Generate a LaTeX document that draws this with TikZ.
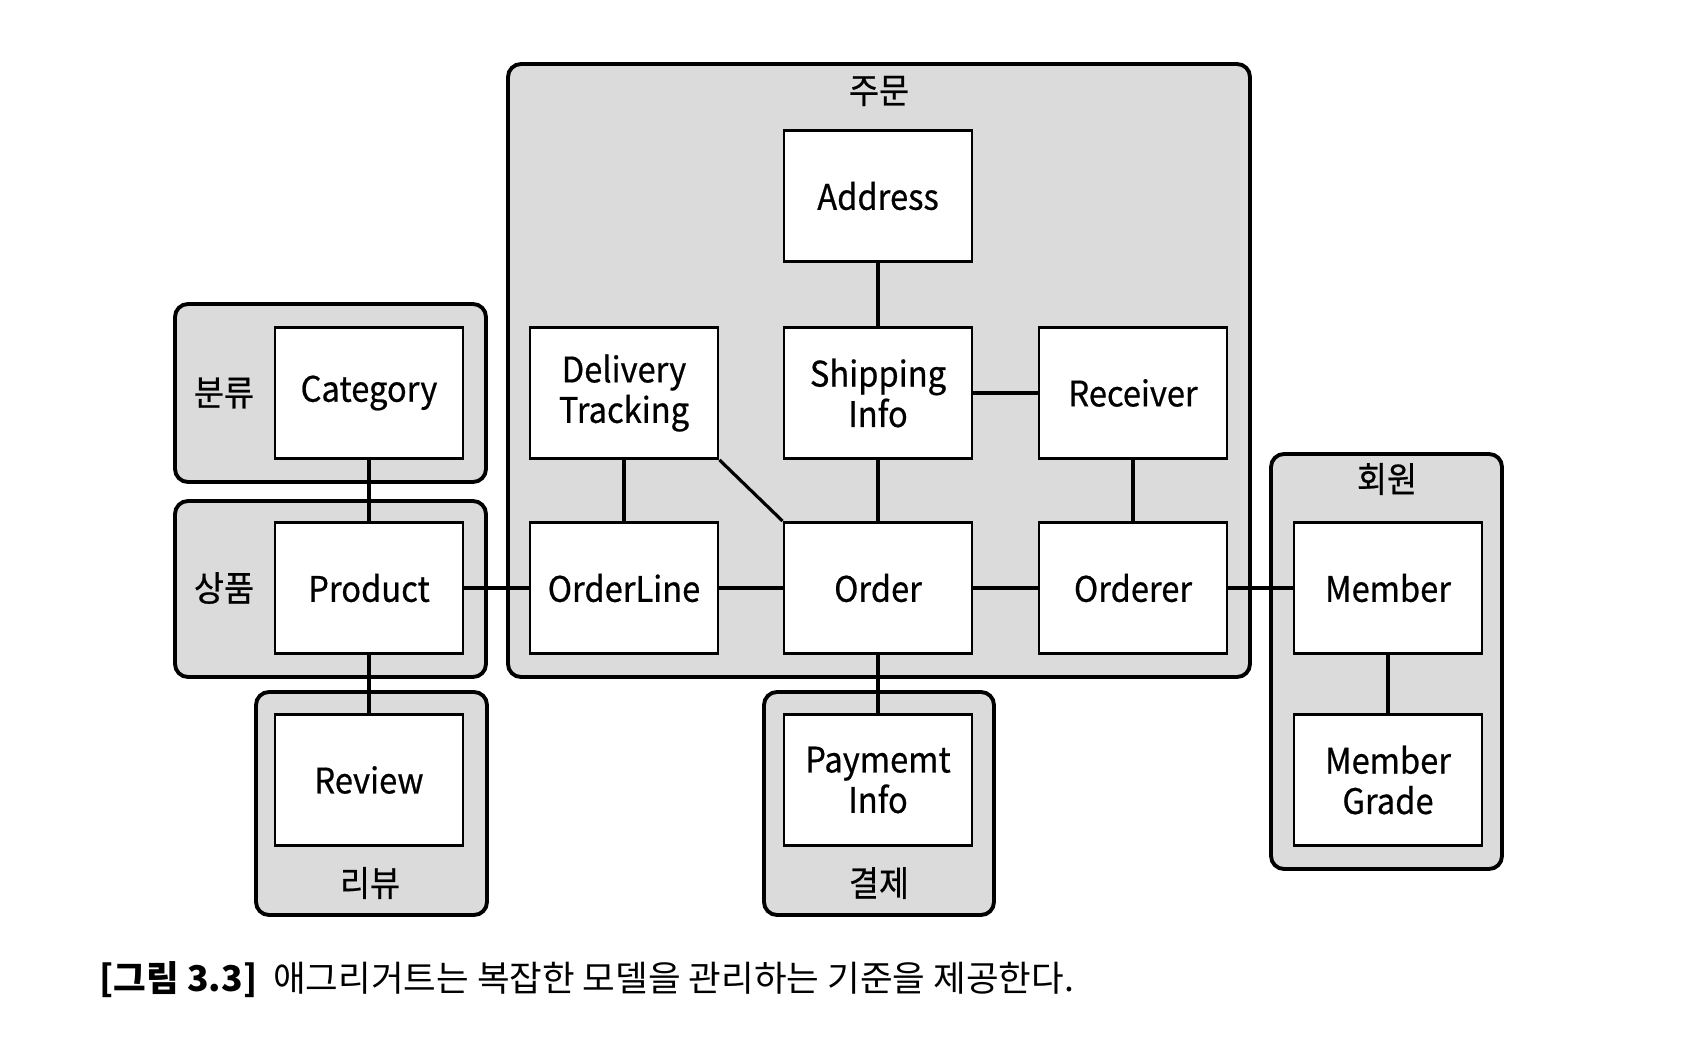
\documentclass[tikz,border=0pt]{standalone}
\usepackage{fontspec}
\setmainfont{Noto Sans CJK KR}
\newfontfamily\boxfont[FakeStretch=0.93,FakeBold=0.6]{Noto Sans CJK KR}
\usepackage{tikz}
\usetikzlibrary{positioning}
\tikzset{
  entity box/.style={draw,fill=white,line width=0.8pt,minimum width=1.88cm,minimum height=1.31cm,inner sep=1pt,align=center,font=\boxfont\fontsize{10}{11.5}\selectfont},
  group box/.style={draw,fill=black!14,line width=1.1pt,rounded corners=1.3mm},
  group label/.style={font=\boxfont\fontsize{10}{12}\selectfont,inner sep=0pt},
  link/.style={line width=0.9pt},
}

\begin{document}
\begin{tikzpicture}
  \useasboundingbox (0,0) rectangle (16.92,10.56);
  \draw[group box] (5.08,3.79) rectangle (12.50,9.92);
  \draw[group box] (1.75,5.74) rectangle (4.86,7.52);
  \draw[group box] (1.75,3.79) rectangle (4.86,5.55);
  \draw[group box] (2.56,1.41) rectangle (4.87,3.64);
  \draw[group box] (7.64,1.41) rectangle (9.94,3.64);
  \draw[group box] (12.71,1.87) rectangle (15.02,6.02);
  \node[group label] (order agg) at (8.79,9.65) {주문};
  \node[group label] (category agg) at (2.24,6.63) {분류};
  \node[group label] (product agg) at (2.24,4.68) {상품};
  \node[group label] (review agg) at (3.70,1.73) {리뷰};
  \node[group label] (payment agg) at (8.79,1.73) {결제};
  \node[group label] (member agg) at (13.87,5.77) {회원};
  \node[entity box] (address) at (8.78,8.60) {Address};
  \node[entity box] (tracking) at (6.24,6.63) {Delivery\\Tracking};
  \node[entity box] (shipping) at (8.78,6.63) {Shipping\\Info};
  \node[entity box] (receiver) at (11.33,6.63) {Receiver};
  \node[entity box] (orderline) at (6.24,4.68) {OrderLine};
  \node[entity box] (order) at (8.78,4.68) {Order};
  \node[entity box] (orderer) at (11.33,4.68) {Orderer};
  \node[entity box] (category) at (3.69,6.63) {Category};
  \node[entity box] (product) at (3.69,4.68) {Product};
  \node[entity box] (review) at (3.69,2.76) {Review};
  \node[entity box] (payment) at (8.78,2.76) {Paymemt\\Info};
  \node[entity box] (member) at (13.88,4.68) {Member};
  \node[entity box] (grade) at (13.88,2.76) {Member\\Grade};
  \draw[link] (address)--(shipping);
  \draw[link] (shipping)--(receiver);
  \draw[link] (shipping)--(order);
  \draw[link] (receiver)--(orderer);
  \draw[link] (tracking)--(orderline);
  \draw[link] (tracking.south east)--(order.north west);
  \draw[link] (orderline)--(order);
  \draw[link] (order)--(orderer);
  \draw[link] (orderer)--(member);
  \draw[link] (product)--(orderline);
  \draw[link] (category)--(product);
  \draw[link] (product)--(review);
  \draw[link] (order)--(payment);
  \draw[link] (member)--(grade);
  \node[anchor=west,inner sep=0pt,font=\fontsize{10.1}{12}\selectfont] (caption) at (0.99,0.76) {\textbf{[그림 3.3]}\ \ 애그리거트는 복잡한 모델을 관리하는 기준을 제공한다.};
\end{tikzpicture}
\end{document}
